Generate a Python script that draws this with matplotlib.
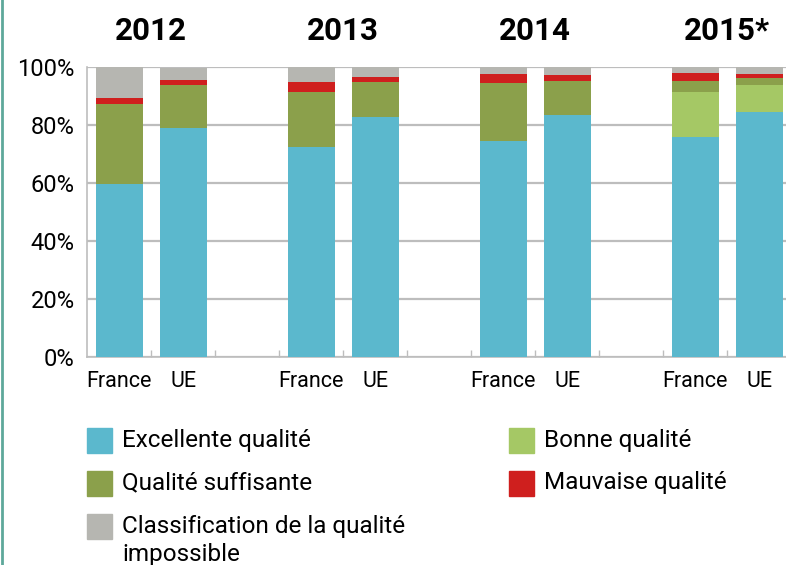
import numpy as np
import matplotlib.pyplot as plt
from matplotlib.lines import Line2D

plt.rcParams['font.family'] = ['Roboto', 'DejaVu Sans']

# data (percent of bathing sites)
years = ["2012", "2013", "2014", "2015*"]
bar_labels = ["France", "UE"] * 4
excellente = [59.7, 79.0, 72.4, 82.8, 74.5, 83.4, 75.9, 84.5]
bonne = [0, 0, 0, 0, 0, 0, 15.5, 9.3]
suffisante = [27.5, 14.8, 19.0, 12.0, 20.0, 11.8, 3.8, 2.4]
mauvaise = [2.1, 1.8, 3.4, 1.8, 3.1, 2.0, 2.7, 1.4]
impossible = [10.7, 4.1, 5.2, 3.4, 2.4, 2.8, 2.1, 2.4]

series = [
    ("Excellente qualité", excellente, "#5bb8cd"),
    ("Bonne qualité", bonne, "#a5c865"),
    ("Qualité suffisante", suffisante, "#8ba04b"),
    ("Mauvaise qualité", mauvaise, "#cf1f1e"),
    ("Classification de la qualité\nimpossible", impossible, "#b6b6b1"),
]

# France, UE, empty slot per year
x = np.array([g * 3 + k for g in range(4) for k in range(2)])

fig = plt.figure(figsize=(7.86, 5.65), dpi=100)
ax = fig.add_axes([87 / 786, 1 - 357 / 565, 1 - 87 / 786, 290 / 565])

bottom = np.zeros(len(x))
for name, vals, col in series:
    vals = np.array(vals)
    ax.bar(x, vals, width=47 / 64, bottom=bottom, color=col, zorder=3)
    bottom += vals

ax.set_ylim(0, 100)
ax.set_xlim(-0.5, 10.5 - 5 / 64)
ax.set_yticks([0, 20, 40, 60, 80, 100])
ax.set_yticklabels([f"{v}%" for v in range(0, 101, 20)], fontsize=17)
ax.yaxis.grid(True, color="#bdbdbd", linewidth=1.6, zorder=0)
ax.tick_params(axis="y", length=0, pad=9)

ax.set_xticks(x)
ax.set_xticklabels(bar_labels, fontsize=15.5)
ax.tick_params(axis="x", which="major", length=0, pad=10)
ax.set_xticks(np.arange(0.5, 10.5, 1), minor=True)
ax.tick_params(axis="x", which="minor", direction="in", length=5, color="#bdbdbd", width=1)

for s in ["top", "right"]:
    ax.spines[s].set_visible(False)
for s in ["left", "bottom"]:
    ax.spines[s].set_color("#bdbdbd")
    ax.spines[s].set_linewidth(1.2)

# year headings
for g, yr in enumerate(years):
    ax.text(g * 3 + 0.5, 1.125, yr, transform=ax.get_xaxis_transform(),
            ha="center", va="center", fontsize=22.5, fontweight="bold")

# legend, two columns
legend_pos = [
    (87, 440, 0), (87, 483, 2), (87, 526, 4),
    (509, 440, 1), (509, 483, 3),
]
for px, py, idx in legend_pos:
    name, vals, col = series[idx]
    fig.patches.append(plt.Rectangle((px / 786, 1 - (py + 12.5) / 565), 25 / 786, 25 / 565,
                                     transform=fig.transFigure, color=col))
    for i, line in enumerate(name.split("\n")):
        fig.text((px + 35) / 786, 1 - (py + i * 28) / 565, line, ha="left",
                 va="center", fontsize=17.5)

# teal rule at the left edge
fig.add_artist(Line2D([0.002, 0.002], [0, 1], transform=fig.transFigure, color="#5ea89a", linewidth=2))

fig.savefig("out.png", dpi=100)
